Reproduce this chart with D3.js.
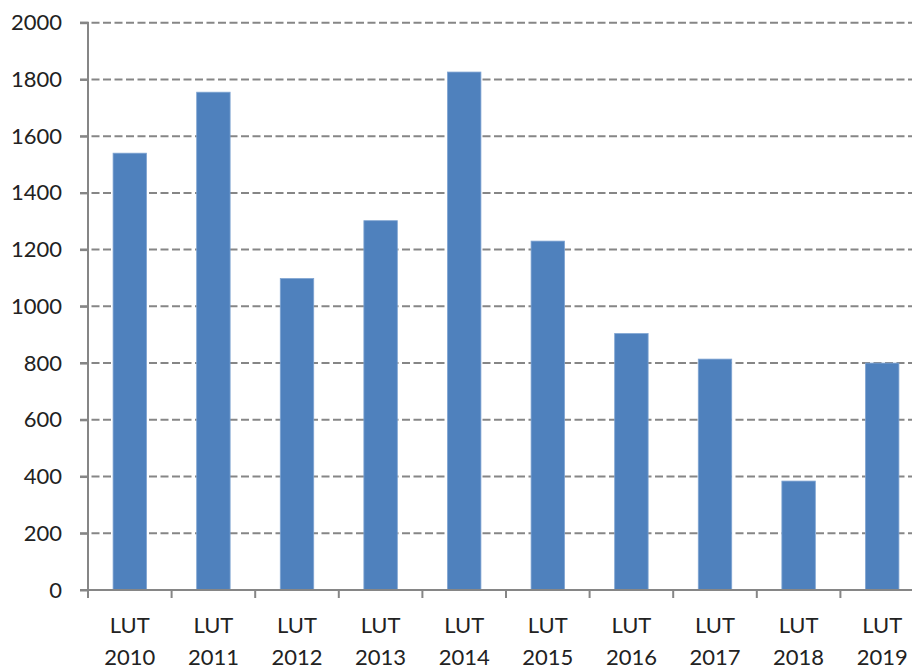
<!DOCTYPE html>
<html><head><meta charset="utf-8">
<script src="https://cdn.jsdelivr.net/npm/d3@7"></script>
<style>html,body{margin:0;padding:0;background:#fff;overflow:hidden}</style>
</head><body>
<svg id="c" width="912" height="666"></svg>
<script>
const categories = ["LUT 2010","LUT 2011","LUT 2012","LUT 2013","LUT 2014","LUT 2015","LUT 2016","LUT 2017","LUT 2018","LUT 2019"];
const values = [1540, 1755, 1098, 1302, 1826, 1230, 904, 814, 384, 800];
const yTicks = [0,200,400,600,800,1000,1200,1400,1600,1800,2000];

const svg = d3.select("#c");
const mLeft = 88, mRight = 924, mTop = 22.7, mBottom = 590;
const x = d3.scaleBand().domain(categories).range([mLeft, mRight]).paddingInner(0).paddingOuter(0);
const y = d3.scaleLinear().domain([0, 2000]).range([mBottom, mTop]);
const font = "Lato, 'Open Sans', 'Liberation Sans', sans-serif";

// gridlines
svg.append("g").selectAll("line").data(yTicks.filter(d => d > 0)).join("line")
  .attr("x1", mLeft - 8).attr("x2", 912)
  .attr("y1", d => y(d)).attr("y2", d => y(d))
  .attr("stroke", "#868686").attr("stroke-width", 2).attr("stroke-dasharray", "8,3.5");

// bars
const bw = x.bandwidth() / 2.5;
svg.append("g").selectAll("rect").data(values).join("rect")
  .attr("x", (d, i) => x(categories[i]) + (x.bandwidth() - bw) / 2)
  .attr("width", bw)
  .attr("y", d => y(d))
  .attr("height", d => mBottom - y(d))
  .attr("fill", "#4F81BD")
  .attr("stroke", "#7FA4D2").attr("stroke-width", 0.8);

// y axis
const yAxis = d3.axisLeft(y).tickValues(yTicks).tickSize(8).tickPadding(18).tickFormat(d3.format("d"));
const ga = svg.append("g").attr("transform", `translate(${mLeft},0)`).call(yAxis);
ga.select(".domain").attr("stroke", "#868686").attr("stroke-width", 2).attr("d", `M-8,${mTop}H0V${mBottom}H-8`);
ga.selectAll(".tick line").attr("stroke", "#868686").attr("stroke-width", 2);
ga.selectAll(".tick text").attr("font-family", font).attr("font-size", 22).attr("fill", "#222").attr("x", -26);

// x axis
const gx = svg.append("g").attr("transform", `translate(0,${mBottom})`);
gx.append("line").attr("x1", mLeft - 8).attr("x2", 912).attr("y1", 0).attr("y2", 0)
  .attr("stroke", "#868686").attr("stroke-width", 2);
const bounds = categories.map(c => x(c)).concat([x(categories[categories.length-1]) + x.bandwidth()]);
gx.selectAll("line.t").data(bounds).join("line").attr("class","t")
  .attr("x1", d => d).attr("x2", d => d).attr("y1", 0).attr("y2", 8)
  .attr("stroke", "#868686").attr("stroke-width", 2);
const lab = gx.selectAll("text").data(categories).join("text")
  .attr("text-anchor", "middle").attr("font-family", font).attr("font-size", 22).attr("fill", "#222");
lab.each(function(c) {
  const parts = c.split(" ");
  const t = d3.select(this);
  parts.forEach((p, i) => t.append("tspan").attr("x", x(c) + x.bandwidth()/2).attr("y", 43 + i*32).text(p));
});
</script>
</body></html>
